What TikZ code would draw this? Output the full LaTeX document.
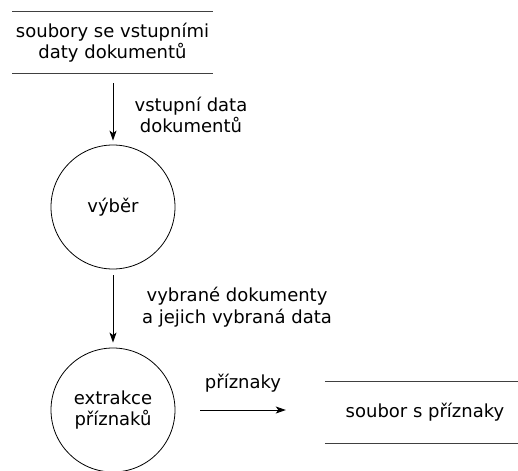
\documentclass[tikz,border=0pt]{standalone}
\usepackage{fontspec}
\setmainfont{DejaVu Sans}
\usetikzlibrary{arrows.meta}
\begin{document}
\begin{tikzpicture}[x=1pt,y=-1pt,
  every node/.style={font=\fontsize{18}{21.5}\selectfont, inner sep=0pt, align=center},
  store/.style={minimum width=200pt, minimum height=61pt},
  storeline/.style={draw=black!75, line width=0.9pt},
  process/.style={circle, draw, line width=0.8pt, minimum size=124pt},
  flow/.style={draw, line width=0.9pt, -{Stealth[length=10pt,width=7pt,inset=2.5pt]}}
]
\useasboundingbox (0,0) rectangle (518,470);

% data stores
\node[store] (s1) at (112.5,42.5) {soubory se vstupními\\daty dokumentů};
\draw[storeline] (s1.north west) -- (s1.north east);
\draw[storeline] (s1.south west) -- (s1.south east);

\node[store] (s2) at (425,412.5) {soubor s příznaky};
\draw[storeline] (s2.north west) -- (s2.north east);
\draw[storeline] (s2.south west) -- (s2.south east);

% processes
\node[process] (c1) at (113,207) {výběr};
\node[process] (c2) at (113,410) {extrakce\\příznaků};

% flows
\draw[flow, shorten <=10pt, shorten >=4pt] (s1.south -| c1.north) -- (c1.north);
\node (l1) at (191,115) {vstupní data\\dokumentů};

\draw[flow, shorten <=6pt, shorten >=5pt] (c1.south) -- (c2.north);
\node (l2) at (237,307) {vybrané dokumenty\\a jejich vybraná data};

\draw[flow, shorten <=25pt, shorten >=39pt] (c2.east) -- (s2.west |- c2.east);
\node (l3) at (243,383) {příznaky};
\end{tikzpicture}
\end{document}
